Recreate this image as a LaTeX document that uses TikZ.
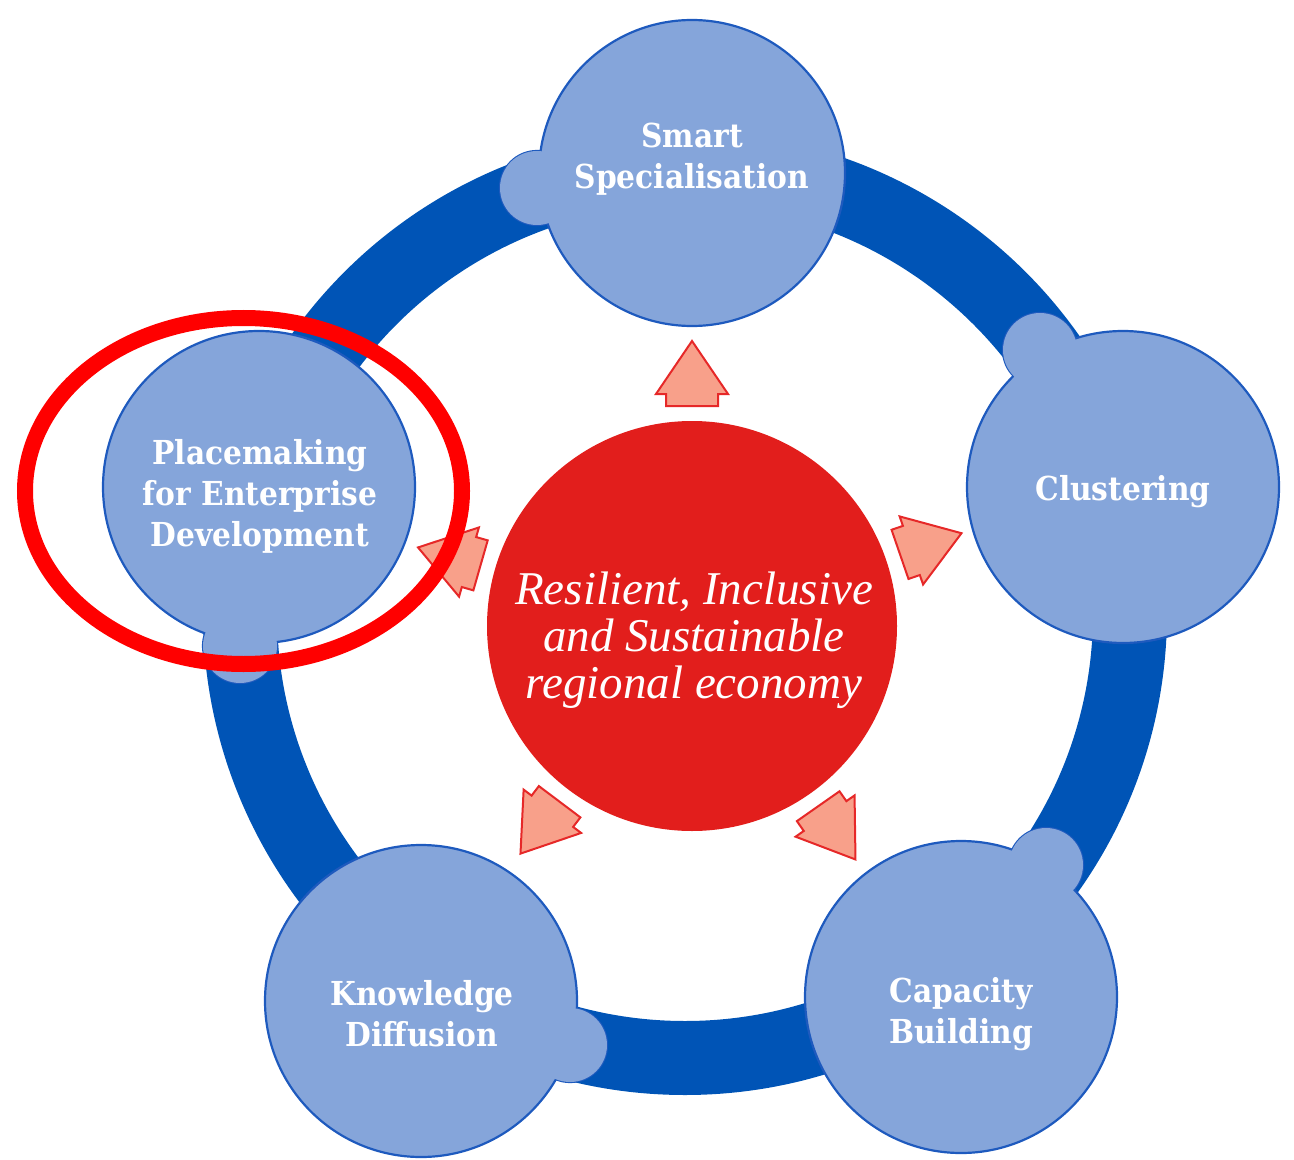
\documentclass[tikz,border=0pt]{standalone}
\usepackage{fontspec}
\setmainfont{Liberation Serif}
\newfontfamily\circfont[FakeStretch=0.9]{DejaVu Serif}
\definecolor{ringblue}{RGB}{0,84,182}
\definecolor{cfill}{RGB}{133,165,218}
\definecolor{cline}{RGB}{30,90,190}
\definecolor{cred}{RGB}{226,30,28}
\definecolor{afill}{RGB}{248,160,138}
\definecolor{aline}{RGB}{230,40,40}
\definecolor{ellred}{RGB}{255,0,0}
\begin{document}
\begin{tikzpicture}[x=0.5pt,y=-0.5pt,
  bigc/.style={circle, inner sep=0pt, minimum size=#1, fill=cfill, draw=cline, line width=1.1pt},
  bigc/.default=156pt,
  bump/.style={circle, inner sep=0pt, minimum size=37pt, fill=cfill, draw=cline, line width=1.1pt},
  ctext/.style={text=white, align=center, font=\circfont\bfseries\fontsize{16.5}{20.5}\selectfont},
  rtext/.style={text=white, align=center, font=\itshape\fontsize{23.5}{23.5}\selectfont},
  outarrow/.style={fill=afill, draw=aline, line width=1pt, line join=miter}]
\useasboundingbox (0,0) rectangle (1294,1160);
% ring
\node[circle, draw=ringblue, line width=37pt, minimum size=445pt, inner sep=0pt] (ring) at (685,613) {};
% bumps
\node[bump] (b1) at (537,188) {};
\node[bump] (b2) at (1040,350) {};
\node[bump] (b3) at (1046,865) {};
\node[bump] (b4) at (570,1045) {};
\node[bump] (b5) at (240,646) {};
% big circles
\node[bigc=153pt] (smart) at (692,173) {};
\node[bigc] (clus) at (1123,487) {};
\node[bigc] (cap) at (961,997) {};
\node[bigc] (know) at (421,1001) {};
\node[bigc] (place) at (259,487) {};
% merge bumps into circles
\foreach \b in {b1,b2,b3,b4,b5}
  \fill[cfill] (\b.center) circle [radius=18.5pt];
% texts
\node[ctext] (smartT) at (692,159) {Smart\\Specialisation};
\node[ctext] (clusT) at (1123,492) {Clustering};
\node[ctext] (capT) at (961,1014) {Capacity\\Building};
\node[ctext] (knowT) at (422,1014) {Knowledge\\Diffusion};
\node[ctext] (placeT) at (260,496) {Placemaking\\for Enterprise\\Development};
% centre
\node[circle, fill=cred, minimum size=205pt, inner sep=0pt] (ctr) at (692,626) {};
\node[rtext] (ctrT) at (694,640) {Resilient, Inclusive\\and Sustainable\\regional economy};
% arrows
\foreach \a in {90,19,-55,-127,164}
  \draw[outarrow, shift={(ctr.center)}, rotate=\a]
    (220,-26) -- (232,-26) -- (232,-36) -- (285,0) -- (232,36) -- (232,26) -- (220,26) -- cycle;
% highlight ellipse
\draw[ellred, line width=8pt] (243.5,491) ellipse [x radius=109.25pt, y radius=86.5pt];
\end{tikzpicture}
\end{document}
